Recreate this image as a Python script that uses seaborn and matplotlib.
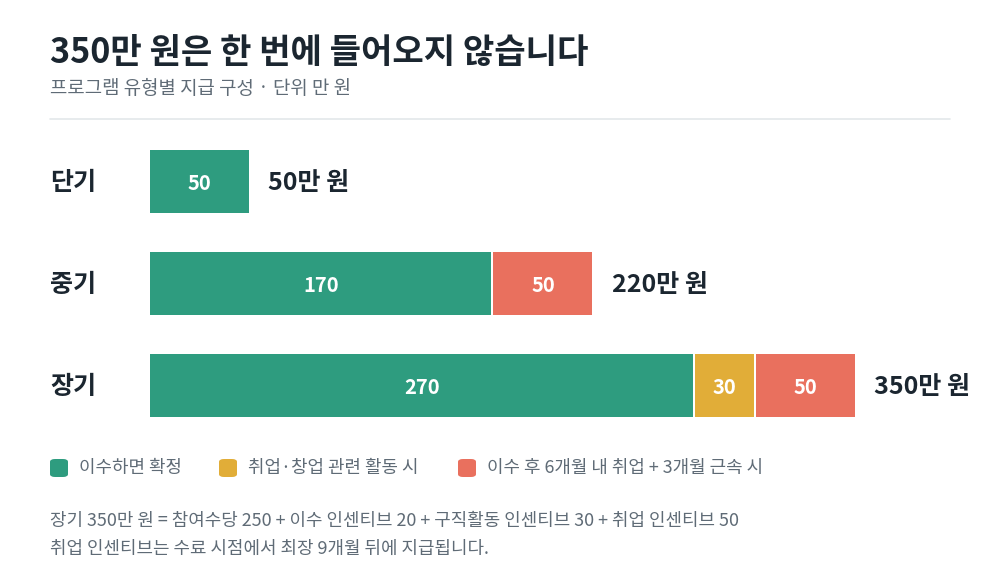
import matplotlib
matplotlib.use("Agg")
import matplotlib.pyplot as plt
from matplotlib.patches import FancyBboxPatch
import seaborn as sns
import pandas as pd
import numpy as np

# ---- data ----
programs = ["단기", "중기", "장기"]
confirmed = [50, 170, 270]      # 이수하면 확정
activity = [0, 0, 30]           # 취업·창업 관련 활동 시
employment = [0, 50, 50]        # 이수 후 6개월 내 취업 + 3개월 근속 시
series_names = ["이수하면 확정", "취업·창업 관련 활동 시", "이수 후 6개월 내 취업 + 3개월 근속 시"]
total_labels = ["50만 원", "220만 원", "350만 원"]

title = "350만 원은 한 번에 들어오지 않습니다"
subtitle = "프로그램 유형별 지급 구성 · 단위 만 원"
note_lines = [
    "장기 350만 원 = 참여수당 250 + 이수 인센티브 20 + 구직활동 인센티브 30 + 취업 인센티브 50",
    "취업 인센티브는 수료 시점에서 최장 9개월 뒤에 지급됩니다.",
]

colors = ["#2e9c7f", "#e1ad38", "#e9705e"]
DARK = "#1b2630"
GRAY = "#5f6b76"

sns.set_theme(style="white")
plt.rcParams["font.family"] = ["Noto Sans CJK KR", "DejaVu Sans"]

df = pd.DataFrame({
    "program": programs,
    "confirmed": confirmed,
    "activity": activity,
    "employment": employment,
})
df["c1"] = df["confirmed"]
df["c2"] = df["confirmed"] + df["activity"]
df["c3"] = df["c2"] + df["employment"]

W, H = 1000, 580
fig = plt.figure(figsize=(W / 100, H / 100), dpi=100)
fig.patch.set_facecolor("white")
ax = fig.add_axes([0, 0, 1, 1])

# pixel mapping
px_per_unit = 2.02
x0_px = 149
xmin = -x0_px / px_per_unit
xmax = (W - x0_px) / px_per_unit
row_px = 102.0
c0_px = 181.5
ytop = -c0_px / row_px
ybot = (H - c0_px) / row_px
bar_h = 65 / row_px

lw_pt = 2.0 * 72 / 100  # 2 px white gap

for col, colr in zip(["c3", "c2", "c1"], [colors[2], colors[1], colors[0]]):
    sns.barplot(data=df, x=col, y="program", order=programs, orient="h",
                color=colr, saturation=1, width=bar_h, ax=ax,
                edgecolor="white", linewidth=lw_pt, errorbar=None)

ax.set_xlim(xmin, xmax)
ax.set_ylim(ybot, ytop)
ax.axis("off")

def px_to_data(px, py):
    return (px - x0_px) / px_per_unit, (py - c0_px) / row_px

dy = 2 / row_px  # small downward nudge for text

# segment labels
for i in range(len(programs)):
    starts = [0, df["c1"][i], df["c2"][i]]
    vals = [confirmed[i], activity[i], employment[i]]
    for s, v in zip(starts, vals):
        if v > 0:
            ax.text(s + v / 2, i + dy, str(v), ha="center", va="center",
                    color="white", fontsize=14.5, fontweight="bold")
    # totals
    ax.text(df["c3"][i] + 9, i + dy, total_labels[i], ha="left", va="center",
            color=DARK, fontsize=18, fontweight="bold")
    # category label
    xl, _ = px_to_data(50, 0)
    ax.text(xl, i + dy, programs[i], ha="left", va="center", color=DARK,
            fontsize=18, fontweight="bold")

# title / subtitle
def ftext(px, py, s, **kw):
    fig.text(px / W, 1 - py / H, s, **kw)

ftext(50, 52, title, ha="left", va="center", fontsize=24.6, fontweight="bold", color=DARK)
ftext(50, 88, subtitle, ha="left", va="center", fontsize=13.6, color=GRAY)

# divider
fig.add_artist(plt.Line2D([50 / W, 950 / W], [1 - 118.5 / H, 1 - 118.5 / H],
                          color="#e3e7ea", linewidth=1.2))

# legend
legend_x = [50, 219, 458]
ly = 468
for lx, name, colr in zip(legend_x, series_names, colors):
    box = FancyBboxPatch(((lx) / W, 1 - (ly + 9) / H), 18 / W, 18 / H,
                         boxstyle="round,pad=0,rounding_size=0.005",
                         transform=fig.transFigure, facecolor=colr,
                         edgecolor="none")
    fig.add_artist(box)
    ftext(lx + 29, ly, name, ha="left", va="center", fontsize=12.9, color=GRAY)

# notes
ftext(50, 521, note_lines[0], ha="left", va="center", fontsize=12.9, color=GRAY)
ftext(50, 549, note_lines[1], ha="left", va="center", fontsize=12.9, color=GRAY)

fig.savefig("out.png", dpi=100, facecolor="white")
